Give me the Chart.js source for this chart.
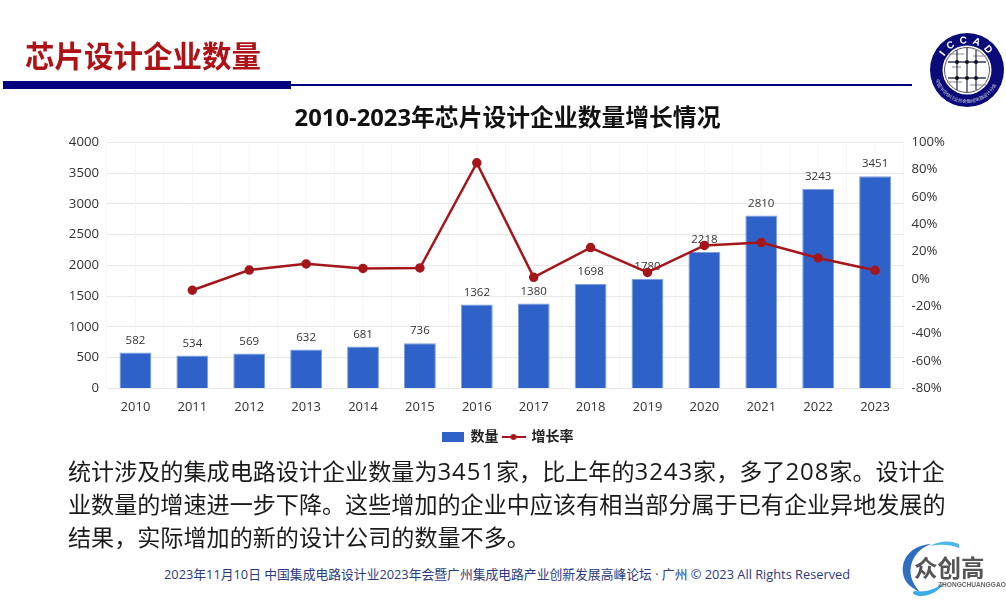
<!DOCTYPE html>
<html>
<head>
<meta charset="utf-8">
<script src="https://cdn.jsdelivr.net/npm/chart.js@4/dist/chart.umd.min.js"></script>
<style>
  html, body { margin: 0; padding: 0; background: #fff; }
  body { width: 1006px; height: 600px; position: relative; overflow: hidden; font-family: "Open Sans", "Noto Sans CJK SC", sans-serif; }
  #chart { position: absolute; left: 0; top: 0; }
  .abs { position: absolute; white-space: nowrap; }
  #head { left: 25px; top: 34px; font: bold 29.5px/40px "Noto Sans CJK SC", sans-serif; color: #ae1216; }
  #rule1 { left: 3px; top: 81px; width: 288px; height: 8px; background: #00007f; }
  #rule2 { left: 291px; top: 84px; width: 621px; height: 2px; background: #00007f; }
  #note { left: 68px; top: 454px; font: 23.1px/33px "Open Sans", "Noto Sans CJK SC", sans-serif; color: #1a1a1a; }
  #note b { font-weight: normal; font-size: 24px; letter-spacing: 0.9px; }
  #foot { left: 164px; top: 566px; font: 12.8px/17px "Open Sans", "Noto Sans CJK SC", sans-serif; color: #2a3a80; }
</style>
</head>
<body>
<canvas id="chart" width="1015" height="460"></canvas>

<div class="abs" id="head">芯片设计企业数量</div>
<div class="abs" id="rule1"></div>
<div class="abs" id="rule2"></div>

<svg class="abs" style="left:928px;top:32px" width="78" height="78" viewBox="0 0 78 78">
  <defs>
    <path id="ring" d="M 12.5 38 A 26.5 26.5 0 0 1 65.5 38"/>
    <path id="ringLow" d="M 6 38 A 33 33 0 0 0 72 38"/>
  </defs>
  <circle cx="39" cy="38" r="37" fill="#0a0a78"/>
  <circle cx="39" cy="38" r="24.5" fill="#fff"/>
  <circle cx="39" cy="38" r="22.5" fill="none" stroke="#555" stroke-width="1"/>
  <text font-family="Liberation Sans" font-weight="bold" font-size="10" fill="#fff" letter-spacing="5"><textPath href="#ring" startOffset="14">ICCAD</textPath></text>
  <text font-family="Noto Sans CJK SC" font-size="4.6" fill="#ccd"><textPath href="#ringLow" startOffset="10">中国半导体行业协会集成电路设计分会</textPath></text>
  <g stroke="#8a8a8a" stroke-width="1" fill="none">
    <path d="M20 22H36M19 50H34M42 53H58M45 24H58M24 35H33"/>
  </g>
  <g stroke="#333a66" stroke-width="1.3" fill="none">
    <path d="M29 18V58M39 16V60M48 18V58M20 30H58M20 46H58"/>
  </g>
  <g fill="#111">
    <circle cx="29" cy="30" r="2"/><circle cx="39" cy="30" r="2"/><circle cx="48" cy="30" r="2"/>
    <circle cx="29" cy="46" r="2"/><circle cx="39" cy="46" r="2"/><circle cx="48" cy="46" r="2"/>
  </g>
</svg>

<div class="abs" id="note">统计涉及的集成电路设计企业数量为<b>3451</b>家，比上年的<b>3243</b>家，多了<b>208</b>家。设计企<br>业数量的增速进一步下降。这些增加的企业中应该有相当部分属于已有企业异地发展的<br>结果，实际增加的新的设计公司的数量不多。</div>
<div class="abs" id="foot">2023年11月10日 中国集成电路设计业2023年会暨广州集成电路产业创新发展高峰论坛 · 广州 © 2023 All Rights Reserved</div>

<svg class="abs" style="left:895px;top:535px" width="111" height="65" viewBox="0 0 111 65">
  <path d="M36 9 C18 10 6 22 8 38 C9 47 16 53 25 57 C18 49 14 41 16 31 C18 21 25 13 36 9Z" fill="#2f6fc0"/>
  <path d="M64 9 C54 5 44 6 35 11 C44 9 54 9 64 13Z" fill="#4db8ea"/>
  <path d="M24 61 C18 60 16 57 20 56 C32 58 42 53 50 47 C44 56 34 62 24 61Z" fill="#38aee6"/>
  <text x="19" y="42" font-family="Noto Sans CJK SC" font-weight="bold" font-size="23.5" fill="#555">众创高</text>
  <text x="43" y="52" font-family="Liberation Sans" font-weight="bold" font-size="6.6" fill="#666">ZHONGCHUANGGAO</text>
</svg>

<script>
'use strict';

const years = ['2010', '2011', '2012', '2013', '2014', '2015', '2016', '2017', '2018', '2019', '2020', '2021', '2022', '2023'];
const counts = [582, 534, 569, 632, 681, 736, 1362, 1380, 1698, 1780, 2218, 2810, 3243, 3451];
const growth = [null, -8.2, 6.6, 11.1, 7.8, 8.1, 85, 1.3, 23, 4.8, 24.6, 26.7, 15.4, 6.4];

const BAR_BLUE = '#2f62c9';
const LINE_RED = '#a5161c';
const CHART_FONT = '"Open Sans", "Noto Sans CJK SC", sans-serif';

// legend swatches, the line one has a dot on it so needs a canvas
function swatch(w, h, paint) {
    const c = document.createElement('canvas');
    c.width = w;
    c.height = h;
    paint(c.getContext('2d'));
    return c;
}
const barSwatch = swatch(22, 10, g => {
    g.fillStyle = BAR_BLUE;
    g.fillRect(0, 0, 22, 10);
});
const lineSwatch = swatch(24, 8, g => {
    g.strokeStyle = LINE_RED;
    g.lineWidth = 2;
    g.beginPath();
    g.moveTo(0, 4);
    g.lineTo(24, 4);
    g.stroke();
    g.fillStyle = LINE_RED;
    g.beginPath();
    g.arc(12, 4, 3, 0, Math.PI * 2);
    g.fill();
});

// value labels go in right after the bars so the line runs over them
const barLabels = {
    id: 'barLabels',
    afterDatasetDraw(chart, args) {
        if (args.index !== 0) return;
        const ctx = chart.ctx;
        ctx.save();
        ctx.font = '11.5px ' + CHART_FONT;
        ctx.fillStyle = '#333';
        ctx.textAlign = 'center';
        ctx.textBaseline = 'middle';
        args.meta.data.forEach((bar, i) => {
            ctx.fillText(counts[i], bar.x, bar.y - 12);
        });
        ctx.restore();
    }
};

// the original also has a faint vertical line through each category centre
const centerLines = {
    id: 'centerLines',
    beforeDatasetsDraw(chart) {
        const x = chart.scales.x;
        const area = chart.chartArea;
        const ctx = chart.ctx;
        ctx.save();
        ctx.strokeStyle = '#f6f6f6';
        ctx.lineWidth = 1;
        years.forEach((y, i) => {
            const px = x.getPixelForTick(i);
            ctx.beginPath();
            ctx.moveTo(px, area.top);
            ctx.lineTo(px, area.bottom);
            ctx.stroke();
        });
        ctx.restore();
    }
};

new Chart(document.getElementById('chart').getContext('2d'), {
    data: {
        labels: years,
        datasets: [
            {
                type: 'bar',
                label: '数量',
                data: counts,
                yAxisID: 'y',
                order: 1,
                backgroundColor: BAR_BLUE,
                borderColor: '#7f9fe0',
                borderWidth: 1,
                categoryPercentage: 1,
                barPercentage: 0.56
            },
            {
                type: 'line',
                label: '增长率',
                data: growth,
                yAxisID: 'y1',
                order: 0,
                borderColor: LINE_RED,
                backgroundColor: LINE_RED,
                borderWidth: 2.5,
                pointRadius: 3.5,
                pointBackgroundColor: LINE_RED,
                pointBorderColor: LINE_RED,
                tension: 0,
                spanGaps: false
            }
        ]
    },
    options: {
        responsive: false,
        animation: false,
        layout: { padding: { top: 101, bottom: 6 } },
        plugins: {
            title: {
                display: true,
                text: '2010-2023年芯片设计企业数量增长情况',
                color: '#111',
                font: { family: CHART_FONT, size: 23.8, weight: 'bold' },
                padding: { top: 4, bottom: 8.8 }
            },
            legend: {
                position: 'bottom',
                labels: {
                    usePointStyle: true,
                    pointStyleWidth: 22,
                    padding: 4,
                    boxHeight: 12,
                    color: '#222',
                    font: { family: CHART_FONT, size: 14, weight: 'bold' },
                    generateLabels() {
                        return [
                            { text: '数量', pointStyle: barSwatch, datasetIndex: 0, fontColor: '#222', lineWidth: 0 },
                            { text: '增长率', pointStyle: lineSwatch, datasetIndex: 1, fontColor: '#222', lineWidth: 0 }
                        ];
                    }
                }
            },
            tooltip: { enabled: false }
        },
        scales: {
            x: {
                offset: true,
                grid: { offset: true, color: '#f6f6f6', drawTicks: false },
                border: { display: false },
                ticks: { color: '#333', padding: 11, maxRotation: 0, font: { family: CHART_FONT, size: 13 } }
            },
            y: {
                position: 'left',
                min: 0,
                max: 4000,
                afterFit(scale) { scale.width = 107; },
                grid: { color: '#e8e8e8', drawTicks: false },
                border: { display: false },
                ticks: {
                    stepSize: 500,
                    color: '#333',
                    padding: 8,
                    font: { family: CHART_FONT, size: 13.2 },
                    callback: v => String(v)
                }
            },
            y1: {
                position: 'right',
                min: -80,
                max: 100,
                // canvas is 9px wider than the page so title and legend centre where they should
                afterFit(scale) { scale.width = 111.5; },
                grid: { drawOnChartArea: false, drawTicks: false },
                border: { display: false },
                ticks: {
                    stepSize: 20,
                    color: '#333',
                    padding: 8,
                    font: { family: CHART_FONT, size: 13.2 },
                    callback: v => v + '%'
                }
            }
        }
    },
    plugins: [centerLines, barLabels]
});
</script>
</body>
</html>
